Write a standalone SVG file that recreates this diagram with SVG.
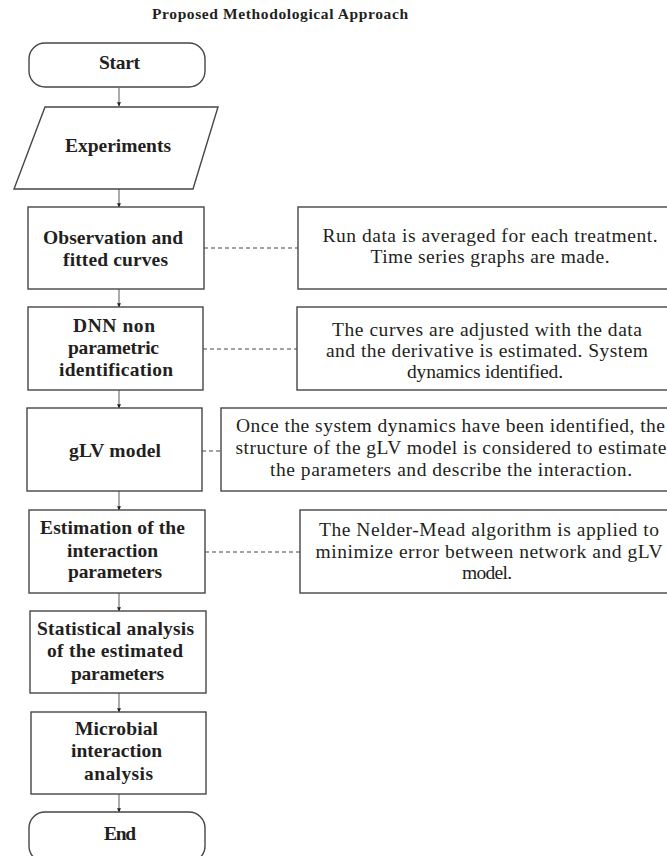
<svg xmlns="http://www.w3.org/2000/svg" width="667" height="856" viewBox="0 0 667 856">
<defs>
<style>
.box{fill:#fff;stroke:#4a4444;stroke-width:1.4}
.b{font-family:"Liberation Serif","Times New Roman",serif;font-weight:bold;font-size:19.5px;fill:#231f20;text-anchor:middle}
.r{font-family:"Liberation Serif","Times New Roman",serif;font-size:19.5px;fill:#231f20;text-anchor:middle}
.t{font-family:"Liberation Serif","Times New Roman",serif;font-weight:bold;font-size:15.5px;fill:#231f20}
.arr{stroke:#8a8686;stroke-width:1.4;fill:none;marker-end:url(#ah)}
.dash{stroke:#4a4444;stroke-width:1;stroke-dasharray:4,3;fill:none}
</style>
<marker id="ah" viewBox="0 0 6 6" refX="5.5" refY="3" markerWidth="3" markerHeight="3" orient="auto" markerUnits="strokeWidth">
<path d="M0,0 L6,3 L0,6 Z" fill="#231f20"/>
</marker>
</defs>
<rect width="667" height="856" fill="#fff"/>
<text class="t" x="152" y="19" textLength="256">Proposed Methodological Approach</text>

<g id="connectors">
<line class="arr" x1="119" y1="88" x2="119" y2="106"/>
<line class="arr" x1="119" y1="189" x2="119" y2="207"/>
<line class="arr" x1="119" y1="289" x2="119" y2="307"/>
<line class="arr" x1="119" y1="390" x2="119" y2="408"/>
<line class="arr" x1="119" y1="491" x2="119" y2="510"/>
<line class="arr" x1="119" y1="593" x2="119" y2="611"/>
<line class="arr" x1="119" y1="693" x2="119" y2="712"/>
<line class="arr" x1="119" y1="794" x2="119" y2="812"/>
<line class="dash" x1="204" y1="248" x2="298" y2="248"/>
<line class="dash" x1="203" y1="349" x2="297" y2="349"/>
<line class="dash" x1="202" y1="451" x2="221" y2="451"/>
<line class="dash" x1="205" y1="552" x2="300" y2="552"/>
</g>

<g id="start">
<rect class="box" x="29" y="43" width="176" height="44" rx="16"/>
<text class="b" x="119.5" y="69" textLength="41">Start</text>
</g>
<g id="experiments">
<polygon class="box" points="45,107 218,107 193,189 14,189"/>
<text class="b" x="118" y="152" textLength="106">Experiments</text>
</g>
<g id="observation">
<rect class="box" x="28" y="207" width="176" height="82"/>
<text class="b" x="113" y="244" textLength="140">Observation and</text>
<text class="b" x="115.5" y="266" textLength="105">fitted curves</text>
</g>
<g id="dnn">
<rect class="box" x="28" y="307" width="175" height="83"/>
<text class="b" x="114" y="332" textLength="82">DNN non</text>
<text class="b" x="113.5" y="354" textLength="91">parametric</text>
<text class="b" x="116" y="376" textLength="114">identification</text>
</g>
<g id="glv">
<rect class="box" x="27" y="408" width="175" height="83"/>
<text class="b" x="115" y="457" textLength="92">gLV model</text>
</g>
<g id="estimation">
<rect class="box" x="29" y="510" width="176" height="83"/>
<text class="b" x="112.5" y="534" textLength="145">Estimation of the</text>
<text class="b" x="112.5" y="557" textLength="91">interaction</text>
<text class="b" x="115" y="578" textLength="94">parameters</text>
</g>
<g id="statistical">
<rect class="box" x="30" y="611" width="176" height="82"/>
<text class="b" x="115.5" y="635" textLength="157">Statistical analysis</text>
<text class="b" x="115" y="657" textLength="136">of the estimated</text>
<text class="b" x="117.5" y="680" textLength="93">parameters</text>
</g>
<g id="microbial">
<rect class="box" x="31" y="712" width="175" height="82"/>
<text class="b" x="116.5" y="735" textLength="83">Microbial</text>
<text class="b" x="116.5" y="757" textLength="91">interaction</text>
<text class="b" x="118.5" y="780" textLength="69">analysis</text>
</g>
<g id="end">
<rect class="box" x="29" y="812" width="176" height="50" rx="16"/>
<text class="b" x="120" y="840" textLength="32">End</text>
</g>

<g id="note-run">
<rect class="box" x="298" y="207" width="380" height="82"/>
<text class="r" x="490" y="242" textLength="335">Run data is averaged for each treatment.</text>
<text class="r" x="490" y="263" textLength="239">Time series graphs are made.</text>
</g>
<g id="note-curves">
<rect class="box" x="297" y="307" width="380" height="83"/>
<text class="r" x="487" y="336" textLength="310">The curves are adjusted with the data</text>
<text class="r" x="487" y="357" textLength="322">and the derivative is estimated. System</text>
<text class="r" x="485" y="378" textLength="156">dynamics identified.</text>
</g>
<g id="note-glv">
<rect class="box" x="221" y="408" width="460" height="83"/>
<text class="r" x="450.5" y="432" textLength="429">Once the system dynamics have been identified, the</text>
<text class="r" x="451" y="454" textLength="431">structure of the gLV model is considered to estimate</text>
<text class="r" x="451" y="476" textLength="362">the parameters and describe the interaction.</text>
</g>
<g id="note-nelder">
<rect class="box" x="300" y="510" width="380" height="83"/>
<text class="r" x="489" y="536" textLength="340">The Nelder-Mead algorithm is applied to</text>
<text class="r" x="489" y="558" textLength="347">minimize error between network and gLV</text>
<text class="r" x="487" y="579" textLength="50">model.</text>
</g>
</svg>
